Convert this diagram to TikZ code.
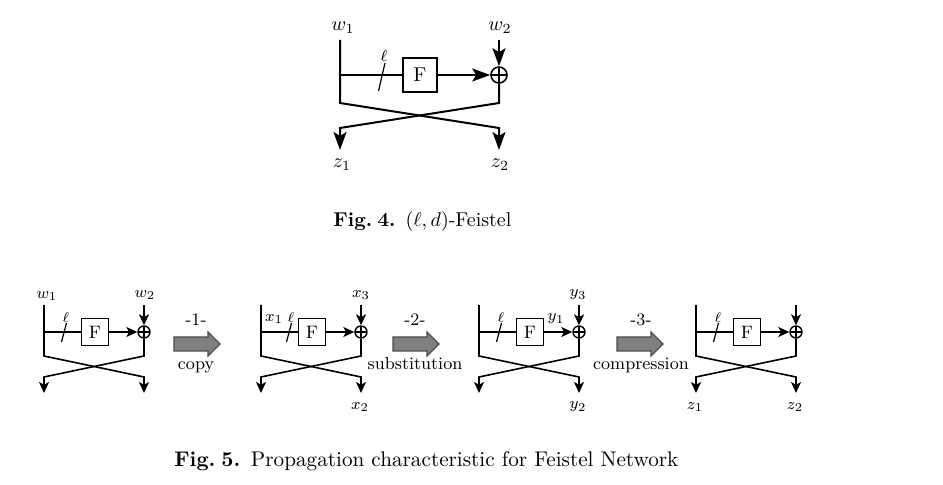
\documentclass[tikz,border=0pt]{standalone}
\usepackage{fontspec}
\usetikzlibrary{arrows.meta}
\tikzset{
  wire/.style={line width=1pt},
  swire/.style={line width=0.8pt},
  slashw/.style={line width=0.6pt},
  bigtip/.style={-{Stealth[length=9pt,width=6.5pt,inset=2pt]}},
  smalltip/.style={-{Stealth[length=5.5pt,width=5pt,inset=1.4pt]}},
  fbig/.style={draw, line width=0.8pt, minimum width=17pt, minimum height=17pt, inner sep=0pt, font=\fontsize{10}{12}\selectfont},
  fsmall/.style={draw, line width=0.7pt, minimum width=13.5pt, minimum height=13.5pt, inner sep=0pt, font=\fontsize{9}{11}\selectfont},
  xbig/.style={circle, draw, line width=0.8pt, minimum size=8pt, inner sep=0pt,
    path picture={\draw[line width=0.8pt] (path picture bounding box.north) -- (path picture bounding box.south)
      (path picture bounding box.west) -- (path picture bounding box.east);}},
  xsmall/.style={circle, draw, line width=0.7pt, minimum size=6pt, inner sep=0pt,
    path picture={\draw[line width=0.7pt] (path picture bounding box.north) -- (path picture bounding box.south)
      (path picture bounding box.west) -- (path picture bounding box.east);}},
  biglab/.style={inner sep=0pt, font=\fontsize{10}{12}\selectfont},
  smalllab/.style={inner sep=0pt, font=\fontsize{8}{9}\selectfont},
  elllab/.style={inner sep=0pt, font=\fontsize{7}{8}\selectfont},
  steplab/.style={inner sep=0pt, anchor=base, font=\fontsize{8.8}{11}\selectfont},
  fatarrow/.style={fill=black!50, draw=black!70, line width=0.6pt},
  caption/.style={inner sep=0pt, anchor=base west}
}
% #1 prefix, #2 left x, #3 slash offset
\newcommand\smallfeistel[3]{%
  \coordinate (#1top) at (#2,305);
  \coordinate (#1br) at (#2,332);
  \coordinate (#1lc) at (#2,356);
  \coordinate (#1le) at (#2,377);
  \coordinate (#1lt) at (#2,393);
  \node[fsmall] (#1F) at ({#2+51},332) {F};
  \node[xsmall] (#1X) at ({#2+100},332) {};
  \coordinate (#1xt) at ({#2+100},305);
  \coordinate (#1rc) at ({#2+100},356);
  \coordinate (#1re) at ({#2+100},377);
  \coordinate (#1rt) at ({#2+100},393);
  \coordinate (#1s1) at ({#2+#3-2.5},342);
  \coordinate (#1s2) at ({#2+#3+2.5},323);
  \draw[swire,smalltip] (#1top) -- (#1lc) -- (#1re) -- (#1rt);
  \draw[swire,smalltip] (#1X.south) -- (#1rc) -- (#1le) -- (#1lt);
  \draw[swire] (#1br) -- (#1F);
  \draw[swire,smalltip] (#1F) -- (#1X);
  \draw[swire,smalltip] (#1xt) -- (#1X);
  \draw[slashw] (#1s1) -- (#1s2);
  \node[elllab] (#1ell) at ({#2+#3+2},318) {$\ell$};
}
\newcommand\fatarr[1]{%
  \draw[fatarrow] (#1,337) -- ++(34,0) -- ++(0,-5) -- ++(12,12) -- ++(-12,12) -- ++(0,-5) -- ++(-34,0) -- cycle;
}
\begin{document}
\begin{tikzpicture}[x=0.5pt,y=-0.5pt]
\useasboundingbox (0,0) rectangle (943,485);
% ---- Fig. 4 ----
\coordinate (Atop) at (340,40);
\coordinate (Abr) at (340,75);
\coordinate (Alc) at (340,103);
\coordinate (Ale) at (340,128);
\coordinate (Alt) at (340,150);
\node[fbig] (AF) at (420,75) {F};
\node[xbig] (AX) at (499,75) {};
\coordinate (Axt) at (499,40);
\coordinate (Arc) at (499,103);
\coordinate (Are) at (499,128);
\coordinate (Art) at (499,150);
\coordinate (As1) at (378.5,91);
\coordinate (As2) at (385,63);
\draw[wire,bigtip] (Atop) -- (Alc) -- (Are) -- (Art);
\draw[wire,bigtip] (AX.south) -- (Arc) -- (Ale) -- (Alt);
\draw[wire] (Abr) -- (AF);
\draw[wire,bigtip] (AF) -- (AX);
\draw[wire,bigtip] (Axt) -- (AX);
\draw[slashw] (As1) -- (As2);
\node[elllab, font=\fontsize{8}{10}\selectfont] (Aell) at (384,56) {$\ell$};
\node[biglab] (Aw1) at (343,28) {$w_1$};
\node[biglab] (Aw2) at (500,28) {$w_2$};
\node[biglab] (Az1) at (342,165) {$z_1$};
\node[biglab] (Az2) at (500,165) {$z_2$};
\node[caption, font=\fontsize{10}{12}\selectfont] (cap4) at (333,227) {\textbf{Fig.\hspace{0.28em}4.}\enspace$(\ell,d)$-Feistel};
% ---- Fig. 5 ----
\smallfeistel{B}{44}{20}
\smallfeistel{C}{261}{28}
\smallfeistel{D}{479}{20}
\smallfeistel{E}{696}{20}
\node[smalllab] (Bw1) at (47,296) {$w_1$};
\node[smalllab] (Bw2) at (145,295) {$w_2$};
\node[smalllab] (Cx1) at (274,319) {$x_1$};
\node[smalllab] (Cx3) at (361,295) {$x_3$};
\node[smalllab] (Cx2) at (360,407) {$x_2$};
\node[smalllab] (Dy1) at (556,319) {$y_1$};
\node[smalllab] (Dy3) at (578,295) {$y_3$};
\node[smalllab] (Dy2) at (578,407) {$y_2$};
\node[smalllab] (Ez1) at (695,407) {$z_1$};
\node[smalllab] (Ez2) at (795,407) {$z_2$};
\fatarr{174}
\fatarr{393}
\fatarr{617}
\node[steplab] (s1) at (196,326) {-1-};
\node[steplab] (t1) at (196,370) {copy};
\node[steplab] (s2) at (415,326) {-2-};
\node[steplab] (t2) at (415,370) {substitution};
\node[steplab] (s3) at (641,326) {-3-};
\node[steplab] (t3) at (641,370) {compression};
\node[caption, font=\fontsize{10.6}{13}\selectfont] (cap5) at (174,467) {\textbf{Fig.\hspace{0.28em}5.}\enspace Propagation characteristic for Feistel Network};
\end{tikzpicture}
\end{document}
